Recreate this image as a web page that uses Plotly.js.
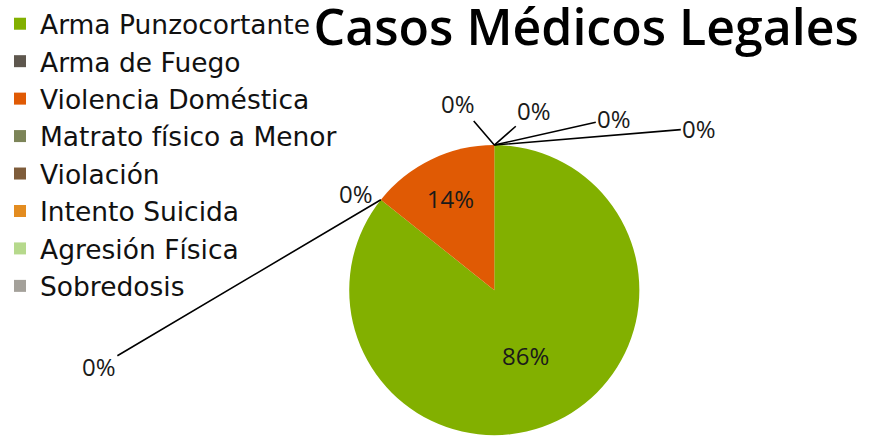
<!DOCTYPE html>
<html>
<head>
<meta charset="utf-8">
<script src="https://cdn.plot.ly/plotly-3.0.1.min.js"></script>
<style>html,body{margin:0;padding:0;background:#fff;}#chart{width:871px;height:445px;}</style>
</head>
<body>
<div id="chart"></div>
<script>
const categories = ["Arma Punzocortante","Arma de Fuego","Violencia Doméstica","Matrato físico a Menor","Violación","Intento Suicida","Agresión Física","Sobredosis"];
const casos = [6, 0, 1, 0, 0, 0, 0, 0];
const colores = ["#82B000","#5E574E","#E05A04","#7C8458","#7E5C3A","#E38C20","#B6D98C","#A4A19A"];
const chartTitle = "Casos Médicos Legales";

const W = 871, H = 445;
const dom = {x: [0.40, 0.735], y: [0.022, 0.674]};
const total = casos.reduce((a, b) => a + b, 0);
const pct = v => Math.round(100 * v / total) + "%";

const lblFont = {family: "Open Sans, sans-serif", size: 24, color: "#1a1a1a"};
const cx = (dom.x[0] + dom.x[1]) / 2;
const cyTop = dom.y[1];
const radPx = Math.min((dom.x[1] - dom.x[0]) * W, (dom.y[1] - dom.y[0]) * H) / 2;
const cyPx = H * (1 - (dom.y[0] + dom.y[1]) / 2);
const cxPx = cx * W;
const ang = 2 * Math.PI * casos[0] / total;
const bx = (cxPx + radPx * Math.sin(ang)) / W;
const by = 1 - (cyPx - radPx * Math.cos(ang)) / H;

const topZeros = [3, 4, 5, 6, 7];
const offsets = [[-36, -42], [40, -35], [120, -27], [205, -17]];
const annotations = [];
topZeros.forEach((idx, k) => {
  if (k < offsets.length) {
    annotations.push({x: cx, y: cyTop, xref: "paper", yref: "paper", text: pct(casos[idx]),
      showarrow: true, arrowhead: 0, arrowwidth: 1.6, arrowcolor: "#000",
      ax: offsets[k][0], ay: offsets[k][1], axref: "pixel", ayref: "pixel", font: lblFont});
  } else {
    annotations.push({x: bx, y: by, xref: "paper", yref: "paper", text: pct(casos[idx]),
      showarrow: true, arrowhead: 0, arrowwidth: 1.6, arrowcolor: "#000",
      ax: -282, ay: 167, axref: "pixel", ayref: "pixel", font: lblFont});
  }
});

const trace = {
  type: "pie",
  labels: categories,
  values: casos,
  sort: false,
  direction: "clockwise",
  rotation: 0,
  marker: {colors: colores, line: {width: 0}},
  texttemplate: "%{percent:.0%}",
  textposition: casos.map((v, i) => v > 0 ? "inside" : (topZeros.includes(i) ? "none" : "outside")),
  insidetextorientation: "horizontal",
  textfont: lblFont,
  outsidetextfont: lblFont,
  domain: dom,
  hoverinfo: "label+percent",
  showlegend: true
};

const layout = {
  width: W, height: H,
  margin: {l: 0, r: 0, t: 0, b: 0},
  paper_bgcolor: "#fff",
  title: {text: chartTitle, x: 0.986, xanchor: "right", y: 0.978, yanchor: "top",
          font: {family: "Open Sans, sans-serif", size: 50, color: "#000", weight: 600}},
  legend: {x: 0.0, y: 1.0, xanchor: "left", yanchor: "top",
           font: {family: "DejaVu Sans, sans-serif", size: 26.5, color: "#111"},
           bgcolor: "rgba(0,0,0,0)", traceorder: "normal"},
  annotations: annotations,
  showlegend: true
};

Plotly.newPlot("chart", [trace], layout, {displayModeBar: false, staticPlot: true});
</script>
</body>
</html>
